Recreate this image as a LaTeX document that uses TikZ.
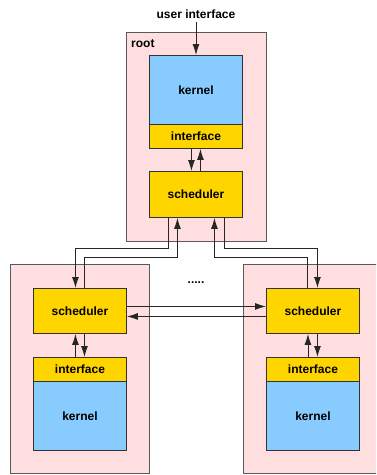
\documentclass[tikz,border=0pt]{standalone}
\usepackage{fontspec}
\setmainfont{Liberation Sans}
\usetikzlibrary{arrows.meta}
\definecolor{pinkbg}{HTML}{FFDEE0}
\definecolor{kblue}{HTML}{88CCFF}
\definecolor{kyellow}{HTML}{FFD500}
\tikzset{
  outerbox/.style={draw=black!65, fill=pinkbg, line width=1pt, anchor=north west, inner sep=0pt},
  blk/.style={draw=black!80, line width=0.9pt, anchor=north west, inner sep=0pt, minimum width=93pt, font=\fontsize{12}{14}\selectfont\bfseries},
  kernelbox/.style={blk, fill=kblue, minimum height=69pt},
  ifacebox/.style={blk, fill=kyellow, minimum height=24pt},
  schedbox/.style={blk, fill=kyellow, minimum height=46pt},
  arr/.style={draw=black!85, line width=0.9pt, -{Latex[length=11pt,width=7pt]}},
  lbl/.style={inner sep=0pt, font=\fontsize{12}{14}\selectfont\bfseries}
}
\begin{document}
\begin{tikzpicture}[x=1pt,y=-1pt]
\clip (0,0) rectangle (376,475);
\fill[white] (0,0) rectangle (376,475);
% outer boxes
\node[outerbox, minimum width=140pt, minimum height=209pt] (root) at (126,32) {};
\node[outerbox, minimum width=139pt, minimum height=209pt] (lbox) at (10,264) {};
\node[outerbox, minimum width=145pt, minimum height=209pt] (rbox) at (243,264) {};
\node[lbl, anchor=base west] (rootlbl) at (131,47) {root};
% root
\node[kernelbox] (rk) at (149,55) {kernel};
\node[ifacebox] (ri) at (149,124) {interface};
\node[schedbox] (rs) at (149,171) {scheduler};
% left
\node[schedbox, minimum height=45pt] (ls) at (33,288) {scheduler};
\node[ifacebox] (li) at (33,357) {interface};
\node[kernelbox] (lk) at (33,381) {kernel};
% right
\node[schedbox, minimum height=45pt] (rs2) at (266,288) {scheduler};
\node[ifacebox] (ri2) at (266,357) {interface};
\node[kernelbox] (rk2) at (266,381) {kernel};
% labels
\node[lbl] (ui) at (196,14) {user interface};
\node[lbl] (dots) at (196,283) {.....};
% user interface arrow
\draw[arr] (ui.south) ++(0,3) coordinate (uis) (uis) -- (uis |- rk.north);
% root interface <-> scheduler
\draw[arr] ([xshift=-4.5pt]ri.south) -- ([xshift=-4.5pt]rs.north);
\draw[arr] ([xshift=4.5pt]rs.north) -- ([xshift=4.5pt]ri.south);
% left interface <-> scheduler
\draw[arr] ([xshift=-4.5pt]li.north) -- ([xshift=-4.5pt]ls.south);
\draw[arr] ([xshift=4.5pt]ls.south) -- ([xshift=4.5pt]li.north);
% right interface <-> scheduler
\draw[arr] ([xshift=-5pt]ri2.north) -- ([xshift=-5pt]rs2.south);
\draw[arr] ([xshift=4.5pt]rs2.south) -- ([xshift=4.5pt]ri2.north);
% root <-> left scheduler
\coordinate (rsA) at ([xshift=-27.5pt]rs.south);
\coordinate (rsB) at ([xshift=-18.5pt]rs.south);
\coordinate (rsC) at ([xshift=18.5pt]rs.south);
\coordinate (rsD) at ([xshift=28.5pt]rs.south);
\coordinate (lsA) at ([xshift=-4.5pt]ls.north);
\coordinate (lsB) at ([xshift=4.5pt]ls.north);
\coordinate (rs2A) at ([xshift=-5.5pt]rs2.north);
\coordinate (rs2B) at ([xshift=4.5pt]rs2.north);
\draw[arr] (rsA) -- (rsA |- 0,248) -| (lsA);
\draw[arr] (lsB) -- (lsB |- 0,257) -| (rsB);
\draw[arr] (rsD) -- (rsD |- 0,248) -| (rs2B);
\draw[arr] (rs2A) -- (rs2A |- 0,257) -| (rsC);
% scheduler <-> scheduler
\draw[arr] ([yshift=4.5pt]ls.east) -- ([yshift=4.5pt]rs2.west);
\draw[arr] ([yshift=-5.5pt]rs2.west) -- ([yshift=-5.5pt]ls.east);
\end{tikzpicture}
\end{document}
